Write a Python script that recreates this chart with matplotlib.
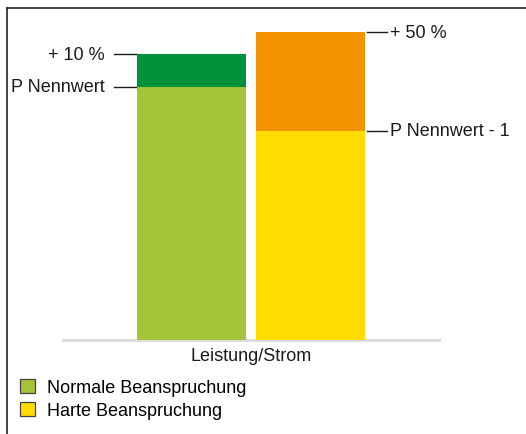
import matplotlib
matplotlib.use("Agg")
import matplotlib.pyplot as plt
from matplotlib.patches import Patch
from matplotlib.lines import Line2D

plt.rcParams['font.family'] = ['Liberation Sans', 'DejaVu Sans']

# ---- data ----
categories = ["Normale Beanspruchung", "Harte Beanspruchung"]
base_values = [100.0, 82.6]      # P Nennwert, P Nennwert - 1
extra_values = [13.0, 39.1]      # + 10 %, + 50 %
base_colors = ["#a5c43a", "#ffdd00"]
extra_colors = ["#00923a", "#f29200"]
top_labels = ["+ 10 %", "+ 50 %"]
base_labels = ["P Nennwert", "P Nennwert - 1"]
xlabel = "Leistung/Strom"

W, H = 526, 435
fig = plt.figure(figsize=(W / 100, H / 100), dpi=100)
ax = fig.add_axes([63 / W, 94 / H, 376 / W, 332 / H])

x = [0, 1]
bw = 0.916
ax.bar(x, base_values, width=bw, color=base_colors, zorder=2)
ax.bar(x, extra_values, bottom=base_values, width=bw, color=extra_colors, zorder=2)

ax.set_xlim(-1.08, 2.08)
ax.set_ylim(0, 131.2)
ax.set_xticks([])
ax.set_yticks([])
for s in ["top", "right", "left"]:
    ax.spines[s].set_visible(False)
ax.spines["bottom"].set_color("#dcdcdc")
ax.spines["bottom"].set_linewidth(2.2)
ax.spines["bottom"].set_zorder(1)

fs = 13.0
ax.set_xlabel(xlabel, fontsize=fs, labelpad=5, color="#1a1a1a")

# left bar annotations
left_edge = x[0] - bw / 2
for yv, lab in [(base_values[0] + extra_values[0], top_labels[0]),
                (base_values[0], base_labels[0])]:
    ax.plot([left_edge - 0.19, left_edge - 0.01], [yv, yv], color="#1a1a1a",
            lw=1.0, clip_on=False)
    ax.text(left_edge - 0.275, yv, lab, ha="right", va="center", fontsize=fs,
            color="#1a1a1a")

# right bar annotations
right_edge = x[1] + bw / 2
for yv, lab in [(base_values[1] + extra_values[1], top_labels[1]),
                (base_values[1], base_labels[1])]:
    ax.plot([right_edge + 0.015, right_edge + 0.185], [yv, yv], color="#1a1a1a",
            lw=1.0, clip_on=False)
    ax.text(right_edge + 0.21, yv, lab, ha="left", va="center", fontsize=fs,
            color="#1a1a1a")

# frame lines (top and left)
fig.add_artist(Line2D([7 / W, 1.0], [1 - 9 / H, 1 - 9 / H], color="#222222",
                      lw=1.2, transform=fig.transFigure))
fig.add_artist(Line2D([7 / W, 7 / W], [0.0, 1 - 9 / H], color="#222222",
                      lw=1.2, transform=fig.transFigure))

handles = [Patch(facecolor=c, edgecolor="#444444", lw=0.9) for c in base_colors]
fig.legend(handles, categories, loc="upper left",
           bbox_to_anchor=(20 / W, 1 - 379.5 / H), frameon=False,
           fontsize=fs, handlelength=0.84, handleheight=0.84,
           handletextpad=0.68, labelspacing=0.32, borderpad=0,
           borderaxespad=0)

fig.savefig("out.png", dpi=100)
